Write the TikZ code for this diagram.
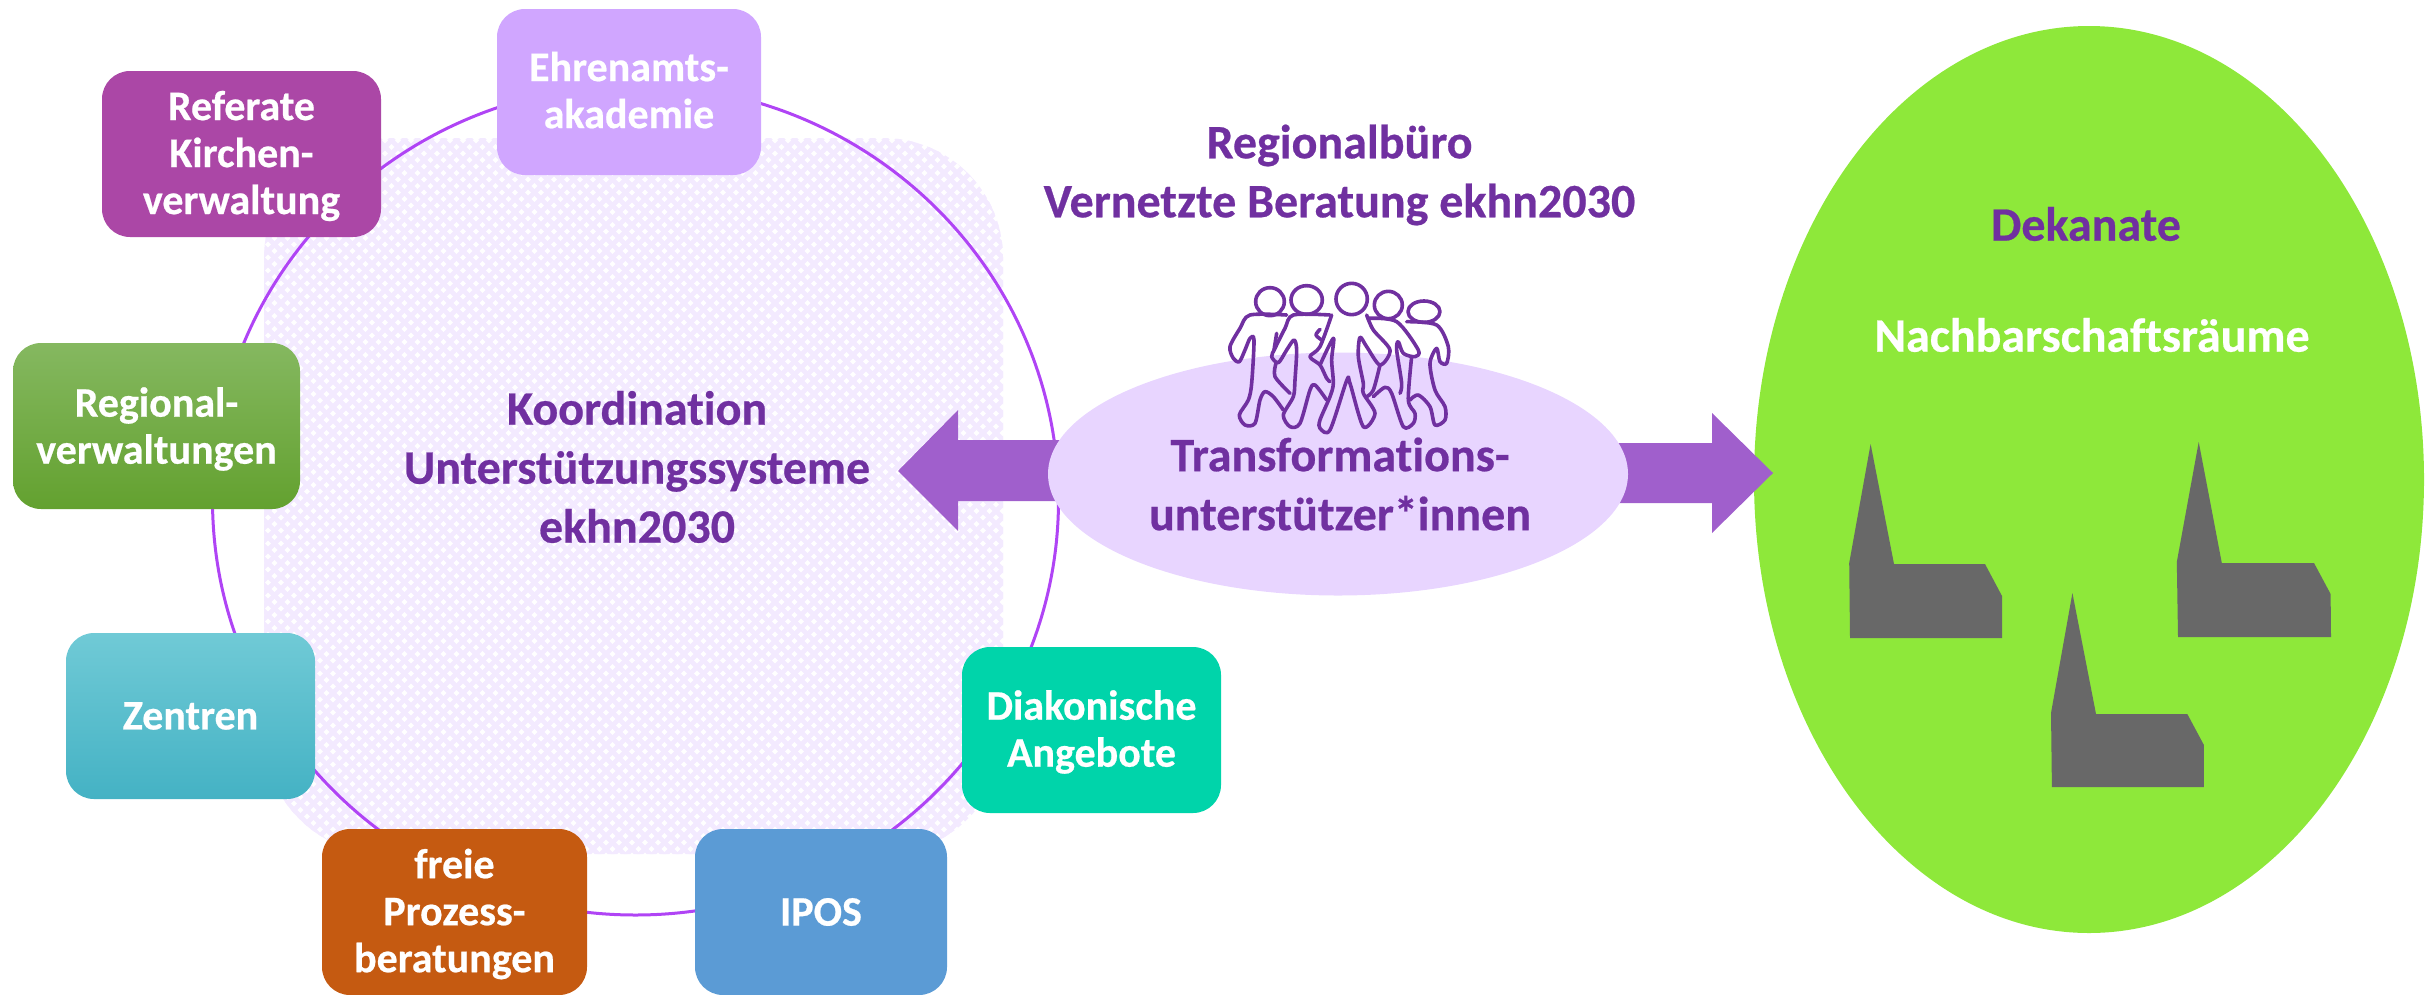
\documentclass[tikz,border=0pt]{standalone}
\usepackage{fontspec}
\usetikzlibrary{shapes.geometric}
\setmainfont{Carlito}[BoldFeatures={FakeBold=0.5},Ligatures=NoCommon]
\definecolor{txtpurple}{HTML}{7030A0}
\definecolor{ringline}{HTML}{B044F5}
\definecolor{hatchc}{HTML}{F3EAFF}
\definecolor{arrowc}{HTML}{A05FCC}
\definecolor{lightell}{HTML}{E8D5FF}
\definecolor{greenell}{HTML}{8EE83A}
\definecolor{churchc}{HTML}{686868}
\tikzset{
  boxnode/.style={rounded corners=28pt,inner sep=0pt},
  boxtext/.style={inner sep=0pt,align=center,text=white,
    font=\fontsize{42}{47}\selectfont\bfseries},
  bigtext/.style={inner sep=0pt,align=center,text=txtpurple,
    font=\fontsize{48}{59}\selectfont\bfseries},
  blockarrow/.style={fill=arrowc,draw=none},
  church/.style={fill=churchc,draw=none},
  person/.style={draw=txtpurple,line width=3.6pt,line cap=round,line join=round},
}
\newcommand{\bx}[8]{% name, x1, y1, x2, y2, style, text offset, text
  \pgfmathsetmacro{\bw}{#4-#2}\pgfmathsetmacro{\bh}{#5-#3}
  \pgfmathsetmacro{\bcx}{(#2+#4)/2}\pgfmathsetmacro{\bcy}{(#3+#5)/2}
  \pgfmathsetmacro{\tcy}{\bcy+#7}
  \node[boxnode,minimum width=\bw pt,minimum height=\bh pt,#6] (#1) at (\bcx,\bcy) {};
  \node[boxtext] (#1text) at (\bcx,\tcy) {#8};}
\begin{document}
\begin{tikzpicture}[x=1pt,y=-1pt]
\useasboundingbox (0,0) rectangle (2435,994);
% hatched square
\begin{scope}
  \clip[rounded corners=120pt] (264,138) rectangle (1003,854);
  \foreach \i in {0,13,...,1480} {
    \draw[hatchc,line width=4.8pt] (264+\i-720,138) -- (264+\i,858);
    \draw[hatchc,line width=4.8pt] (264+\i,138) -- (264+\i-720,858);
  }
\end{scope}
% ring
\node[ellipse,draw=ringline,line width=3pt,minimum width=846pt,minimum height=830pt,inner sep=0pt] (ring) at (635.5,500) {};
% boxes
\bx{ehren}{497}{9}{761}{175}{fill={rgb,255:red,208;green,166;blue,255}}{-2}{Ehrenamts-\\akademie}
\bx{referate}{102}{71}{381}{237}{fill={rgb,255:red,171;green,71;blue,166}}{2}{Referate\\Kirchen-\\verwaltung}
\bx{regional}{13}{343}{300}{509}{top color={rgb,255:red,133;green,184;blue,96},bottom color={rgb,255:red,99;green,161;blue,47}}{3}{Regional-\\verwaltungen}
\bx{zentren}{66}{633}{315}{799}{top color={rgb,255:red,112;green,202;blue,214},bottom color={rgb,255:red,68;green,178;blue,196}}{0}{Zentren}
\bx{freie}{322}{829}{587}{995}{fill={rgb,255:red,197;green,90;blue,17}}{2}{freie\\Prozess-\\beratungen}
\bx{ipos}{695}{829}{947}{995}{fill={rgb,255:red,91;green,155;blue,213}}{0}{IPOS}
\bx{diakon}{962}{647}{1221}{813}{fill={rgb,255:red,0;green,212;blue,170}}{2}{Diakonische\\Angebote}
% green ellipse
\node[ellipse,fill=greenell,minimum width=670pt,minimum height=907pt,inner sep=0pt] (dekanate) at (2089,479.5) {};
% arrows
\fill[blockarrow] (898,471) -- (958,410) -- (958,440) -- (1100,440) -- (1100,501) -- (958,501) -- (958,531) -- cycle;
\fill[blockarrow] (1773,473) -- (1712,413) -- (1712,443) -- (1580,443) -- (1580,503) -- (1712,503) -- (1712,533) -- cycle;
% light ellipse
\node[ellipse,fill=lightell,minimum width=580pt,minimum height=243pt,inner sep=0pt] (transf) at (1338,474) {};
% churches
\fill[church] (1870.6,444) -- (1849.2,563) -- (1850,638) -- (2002,638) -- (2002,596) -- (1985,564) -- (1894,564) -- cycle;
\fill[church] (2198.7,442) -- (2176.8,562) -- (2178,637) -- (2331,637) -- (2330.6,594) -- (2314,563) -- (2221.8,563) -- cycle;
\fill[church] (2072.4,593) -- (2051,713) -- (2051.9,787) -- (2203.9,787) -- (2203.9,745) -- (2187.3,714) -- (2096,714) -- cycle;
% people
\begin{scope}[shift={(1150,250)},x=0.3333pt,y=-0.3333pt]
 \draw[person] (360,155) ellipse [x radius=43,y radius=42];
 \draw[person] (470,150) ellipse [x radius=47,y radius=43];
 \draw[person] (605,147) ellipse [x radius=47,y radius=47];
 \draw[person] (715,165) ellipse [x radius=42,y radius=41];
 \draw[person] (822,185) ellipse [x radius=48,y radius=32];
 \draw[person] plot[smooth,tension=0.5] coordinates {(410,195)(300,195)(270,235)(240,290)(250,325)(268,335)(285,300)(300,265)(312,270)(305,400)(295,450)(268,495)(285,525)(315,520)(330,450)(345,425)(370,440)(400,480)};
 \draw[person] plot[smooth,tension=0.5] coordinates {(540,195)(430,195)(405,235)(375,295)(365,320)(385,338)(410,300)(432,270)(440,300)(435,390)(430,440)(400,495)(420,530)(450,520)(480,420)(495,405)(530,450)};
 \draw[person] plot[smooth,tension=0.5] coordinates {(380,250)(372,300)};
 \draw[person] plot[smooth,tension=0.5] coordinates {(378,340)(375,380)(420,430)};
 \draw[person] plot[smooth,tension=0.5] coordinates {(510,238)(498,255)(515,270)};
 \draw[person] plot[smooth,tension=0.5] coordinates {(545,195)(510,290)(480,320)(510,345)(530,385)(540,395)};
 \draw[person] plot[smooth,tension=0.5] coordinates {(510,345)(550,265)(545,330)(550,400)(540,440)(510,510)(510,535)(540,540)(590,392)(600,400)(640,530)(675,490)(640,430)(640,400)(625,320)(630,262)(650,290)(690,345)(720,300)(670,240)(650,195)};
 \draw[person] plot[smooth,tension=0.5] coordinates {(655,205)(740,215)(805,300)(795,320)(760,310)(745,275)(740,300)(755,400)(750,430)};
 \draw[person] plot[smooth,tension=0.5] coordinates {(690,345)(670,420)(650,440)};
 \draw[person] plot[smooth,tension=0.5] coordinates {(670,440)(705,412)(725,430)(760,530)(790,520)(795,490)(775,450)(785,320)};
 \draw[person] plot[smooth,tension=0.5] coordinates {(770,215)(860,225)(895,290)(890,340)(870,335)(860,295)(840,340)(855,420)(885,470)(885,510)(855,525)(840,470)(805,435)(780,450)};
\end{scope}
% texts
\node[bigtext] (koord) at (637,467) {Koordination\\Unterstützungssysteme\\ekhn2030};
\node[bigtext] (regbuero) at (1339.5,175) {Regionalbüro\\Vernetzte Beratung ekhn2030};
\node[bigtext] (tlabel) at (1340,484) {Transformations-\\unterstützer*innen};
\node[bigtext] (deklabel) at (2086,224) {Dekanate};
\node[bigtext,text=white] (nachbar) at (2092,335) {Nachbarschaftsräume};
\end{tikzpicture}
\end{document}
